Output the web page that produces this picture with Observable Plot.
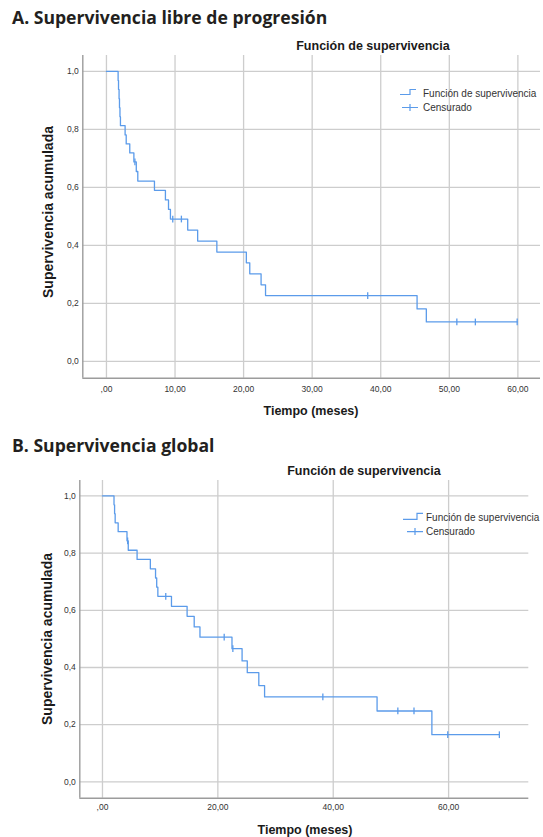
<!DOCTYPE html>
<html><head><meta charset="utf-8">
<script src="https://cdn.jsdelivr.net/npm/d3@7"></script>
<script src="https://cdn.jsdelivr.net/npm/@observablehq/plot@0.6"></script>
<style>
body{margin:0;background:#fff;}
#page{position:relative;width:543px;height:837px;overflow:hidden;background:#fff;}
#page > div.plot{position:absolute;left:0;}
#overlay{position:absolute;left:0;top:0;pointer-events:none;}
.ptitle{font-family:"Open Sans",sans-serif;font-weight:700;font-size:17.6px;fill:#231f20;}
.ctitle{font-family:"Liberation Sans",Arial,sans-serif;font-weight:700;font-size:12.5px;fill:#1a1a1a;}
.axlab{font-family:"Liberation Sans",Arial,sans-serif;font-weight:700;font-size:12.5px;fill:#1a1a1a;}
.ylab{font-family:"Liberation Sans",Arial,sans-serif;font-weight:700;font-size:14px;fill:#1a1a1a;}
.leg{font-family:"Liberation Sans",Arial,sans-serif;font-size:10px;fill:#333;}
</style>
</head><body>
<div id="page">
  <div class="plot" id="plotA" style="top:30px"></div>
  <div class="plot" id="plotB" style="top:455px"></div>
  <svg id="overlay" width="543" height="837">
    <text class="ptitle" x="12" y="24">A. Supervivencia libre de progresión</text>
    <text class="ctitle" x="373" y="49.5" text-anchor="middle">Función de supervivencia</text>
    <path d="M400,94.5 H410 V89.5 H416" fill="none" stroke="#5b9bea" stroke-width="1.2"/>
    <text class="leg" x="423" y="96.5">Función de supervivencia</text>
    <path d="M402,107.5 H418 M410,104 V111" fill="none" stroke="#5b9bea" stroke-width="1.2"/>
    <text class="leg" x="423" y="111">Censurado</text>
    <text class="ylab" transform="translate(53,212) rotate(-90)" text-anchor="middle">Supervivencia acumulada</text>
    <text class="axlab" x="311" y="414.5" text-anchor="middle">Tiempo (meses)</text>

    <text class="ptitle" x="12" y="452">B. Supervivencia global</text>
    <text class="ctitle" x="364" y="474.5" text-anchor="middle">Función de supervivencia</text>
    <path d="M403,519.3 H417 V513.3 H423" fill="none" stroke="#5b9bea" stroke-width="1.2"/>
    <text class="leg" x="426" y="521">Función de supervivencia</text>
    <path d="M407,531.7 H423 M415,528 V535" fill="none" stroke="#5b9bea" stroke-width="1.2"/>
    <text class="leg" x="426" y="535.3">Censurado</text>
    <text class="ylab" transform="translate(52,639) rotate(-90)" text-anchor="middle">Supervivencia acumulada</text>
    <text class="axlab" x="305" y="833.5" text-anchor="middle">Tiempo (meses)</text>
  </svg>
</div>
<script>
// ---- Data: A. Supervivencia libre de progresión (Kaplan-Meier steps) ----
const pfsTimes = [1.70,1.76,1.84,1.90,1.97,2.04,2.72,2.88,3.40,4.00,4.35,4.57,7.00,8.60,9.05,9.33,11.85,13.30,16.10,20.40,20.90,22.55,23.20,45.30,46.65];
const pfsSurv  = [0.969,0.938,0.906,0.875,0.844,0.813,0.781,0.750,0.719,0.688,0.655,0.622,0.590,0.557,0.524,0.491,0.453,0.415,0.377,0.340,0.302,0.264,0.227,0.181,0.136];
const pfsCensorTimes = [4.15,9.67,10.93,38.1,51.1,53.8,59.9];

// ---- Data: B. Supervivencia global ----
const osTimes = [2.00,2.10,2.20,2.72,4.25,4.47,6.00,8.30,9.20,9.40,9.60,11.96,14.67,15.90,16.90,22.45,24.20,25.10,27.10,28.10,47.60,57.10];
const osSurv  = [0.969,0.938,0.906,0.875,0.843,0.810,0.778,0.745,0.713,0.681,0.649,0.614,0.579,0.542,0.506,0.466,0.423,0.382,0.337,0.297,0.248,0.165];
const osCensorTimes = [4.36,10.97,21.1,22.6,38.2,51.2,54.0,59.85,68.8];

// ---- Ticks ----
const xTicksA = [0,10,20,30,40,50,60];
const xTickLabelsA = [",00","10,00","20,00","30,00","40,00","50,00","60,00"];
const xTicksB = [0,20,40,60];
const xTickLabelsB = [",00","20,00","40,00","60,00"];
const yTicks = [0,0.2,0.4,0.6,0.8,1.0];
const yTickLabels = ["0,0","0,2","0,4","0,6","0,8","1,0"];

const BLUE = "#5b9bea";

function survAt(times, surv, t){ let s = 1; for (let i = 0; i < times.length; i++) if (times[i] <= t) s = surv[i]; return s; }
function kmLine(times, surv, censors){
  const pts = [{t:0, s:1}];
  times.forEach((t,i) => pts.push({t, s:surv[i]}));
  const end = Math.max(...censors, ...times);
  pts.push({t:end, s:survAt(times, surv, end)});
  return pts;
}
function kmCensors(times, surv, censors){ return censors.map(t => ({t, s:survAt(times, surv, t)})); }

const vtick = {draw(ctx, size){ const h = Math.sqrt(size); ctx.moveTo(0, -h/2); ctx.lineTo(0, h/2); }};

function km({times, surv, censors, xTicks, xLabels, xDomain, yDomain, height, margins, tickPadX}){
  const xl = new Map(xTicks.map((d,i)=>[d, xLabels[i]]));
  const yl = new Map(yTicks.map((d,i)=>[d, yTickLabels[i]]));
  return Plot.plot({
    width: 543, height,
    ...margins,
    x: {domain: xDomain},
    y: {domain: yDomain},
    style: {fontFamily: "'Liberation Sans', Arial, sans-serif", fontSize: "8.5px", color: "#333", background: "transparent", overflow: "visible"},
    marks: [
      Plot.gridX(xTicks, {stroke: "#cdcdcd", strokeOpacity: 1, strokeWidth: 1.3}),
      Plot.gridY(yTicks, {stroke: "#cdcdcd", strokeOpacity: 1, strokeWidth: 1.3}),
      Plot.ruleX([xDomain[0]], {stroke: "#9c9c9c", strokeWidth: 1.4}),
      Plot.ruleY([yDomain[0]], {stroke: "#9c9c9c", strokeWidth: 1.4}),
      Plot.axisX(xTicks, {tickSize: 0, tickPadding: tickPadX, tickFormat: d => xl.get(d), label: null}),
      Plot.axisY(yTicks, {tickSize: 0, tickPadding: 4, tickFormat: d => yl.get(d), label: null}),
      Plot.line(kmLine(times, surv, censors), {x: "t", y: "s", curve: "step-after", stroke: BLUE, strokeWidth: 1.3}),
      Plot.dot(kmCensors(times, surv, censors), {x: "t", y: "s", symbol: vtick, r: 3.8, stroke: BLUE, strokeWidth: 1.3, fill: "none"})
    ]
  });
}

document.getElementById("plotA").append(km({
  times: pfsTimes, surv: pfsSurv, censors: pfsCensorTimes,
  xTicks: xTicksA, xLabels: xTickLabelsA,
  xDomain: [-3.45, 63.3], yDomain: [-0.058, 1.055],
  height: 395, margins: {marginLeft: 82.3, marginRight: 3, marginTop: 25, marginBottom: 47.3}, tickPadX: 8
}));

document.getElementById("plotB").append(km({
  times: osTimes, surv: osSurv, censors: osCensorTimes,
  xTicks: xTicksB, xLabels: xTickLabelsB,
  xDomain: [-3.93, 73.9], yDomain: [-0.057, 1.054],
  height: 382, margins: {marginLeft: 79.3, marginRight: 14.7, marginTop: 25, marginBottom: 39.3}, tickPadX: 6
}));
</script>
</body></html>
